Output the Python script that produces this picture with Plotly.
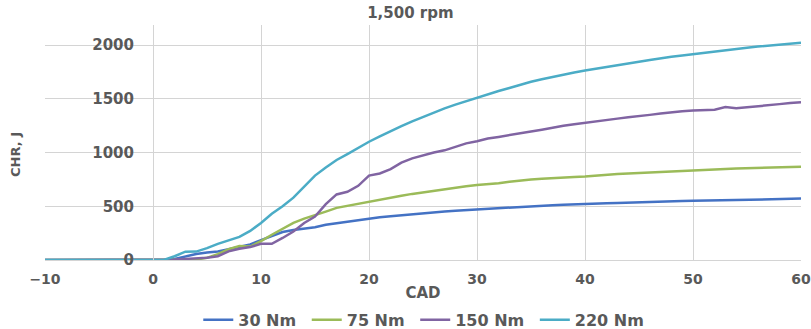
import plotly.graph_objects as go

cad = list(range(-10, 61))

zeros = [0] * 11  # -10 .. 0

nm30 = zeros + [0, 10, 35, 55, 70, 80, 100, 120, 145, 185, 225, 260, 280, 290, 305, 328, 342, 355, 370, 388,
                398, 408, 418, 428, 436, 447, 452, 458, 464, 470, 478, 486, 492, 498, 503, 507, 510, 514, 516, 518,
                522, 527, 531, 535, 538, 542, 545, 547, 549, 550, 552, 554, 556, 558, 560, 563, 566, 568, 570, 571]

nm75 = zeros + [0, 0, 0, 5, 20, 55, 100, 130, 125, 175, 235, 290, 345, 385, 415, 450, 485, 505, 525, 540,
                558, 578, 598, 615, 630, 645, 660, 672, 685, 698, 705, 715, 728, 740, 748, 755, 762, 768, 772, 776,
                785, 795, 800, 805, 810, 815, 820, 828, 833, 837, 840, 844, 847, 850, 853, 856, 859, 862, 865, 868]

nm150 = zeros + [0, 5, 10, 15, 22, 35, 80, 105, 120, 150, 150, 205, 265, 345, 405, 520, 610, 635, 690, 785,
                 805, 845, 905, 945, 975, 1000, 1020, 1055, 1085, 1105, 1130, 1145, 1160, 1180, 1196, 1212, 1232, 1248, 1262, 1277,
                 1290, 1302, 1315, 1328, 1336, 1350, 1362, 1375, 1384, 1390, 1395, 1397, 1422, 1412, 1420, 1432, 1442, 1450, 1460, 1467]

nm220 = zeros + [0, 35, 77, 78, 110, 150, 180, 215, 270, 345, 430, 500, 580, 680, 785, 860, 930, 985, 1045, 1100,
                 1150, 1200, 1245, 1290, 1330, 1375, 1410, 1445, 1478, 1510, 1543, 1572, 1600, 1630, 1658, 1682, 1705, 1725, 1745, 1762,
                 1780, 1797, 1812, 1828, 1845, 1860, 1877, 1890, 1903, 1916, 1930, 1943, 1955, 1966, 1975, 1985, 1995, 2004, 2013, 2022]

series = [("30 Nm", nm30, "#4472C4"), ("75 Nm", nm75, "#9BBB59"),
          ("150 Nm", nm150, "#8064A2"), ("220 Nm", nm220, "#4BACC6")]

txt = "#595959"
fnt = dict(family="DejaVu Sans", size=15, color=txt, weight="bold")
xfnt = dict(family="DejaVu Sans", size=14, color=txt, weight="bold")
legfnt = dict(family="DejaVu Sans", size=16, color=txt, weight="bold")

fig = go.Figure()
for name, ys, col in series:
    fig.add_trace(go.Scatter(x=cad, y=ys, name=name + " ", mode="lines",
                             line=dict(color=col, width=2.5)))

fig.update_layout(
    width=811, height=329,
    margin=dict(l=45, r=10, t=25, b=69, autoexpand=False),
    paper_bgcolor="white", plot_bgcolor="white",
    font=fnt,
    title=dict(text="1,500 rpm", x=0.506, xanchor="center", y=0.962, yanchor="middle",
               font=dict(family="DejaVu Sans", size=15, color=txt, weight="bold")),
    showlegend=True,
    legend=dict(orientation="h", x=0.505, xanchor="center", y=-0.255, yanchor="middle",
                font=legfnt, itemwidth=30, tracegroupgap=0),
    xaxis=dict(range=[-10, 60], dtick=10, tick0=0, showgrid=True, gridcolor="#D4D4D4", gridwidth=1,
               zeroline=False, showline=True, linecolor="#D4D4D4", ticks="", automargin=False,
               ticklabelstandoff=6, tickfont=xfnt,
               title=dict(text="CAD", font=fnt, standoff=1)),
    yaxis=dict(range=[0, 2186], tickvals=[0, 500, 1000, 1500, 2000], showgrid=True,
               gridcolor="#D4D4D4", gridwidth=1, zeroline=False, showline=True, linecolor="#D4D4D4",
               anchor="free", position=1/7, ticks="", ticklabelstandoff=16, tickfont=fnt,
               automargin=False),
    annotations=[dict(text="CHR, J", textangle=-90, xref="paper", yref="paper",
                      x=-0.04, y=0.45, xanchor="center", yanchor="middle",
                      showarrow=False, font=dict(family="DejaVu Sans", size=13, color=txt, weight="bold"))],
)

fig.write_html("out.html", config={"displayModeBar": False},
               post_script="document.body.style.margin='0';document.body.style.overflow='hidden';")
